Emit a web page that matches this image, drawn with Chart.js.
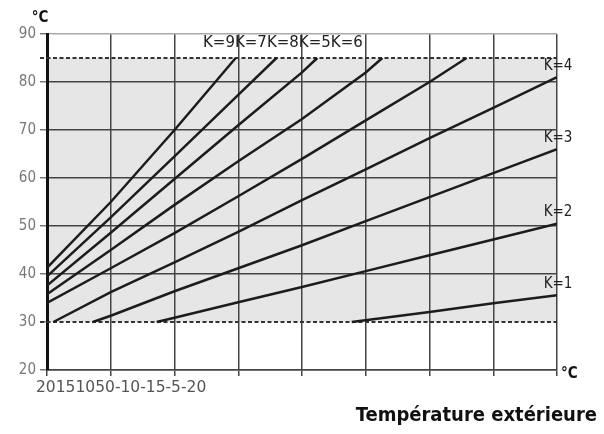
<!DOCTYPE html>
<html>
<head>
<meta charset="utf-8">
<script src="https://cdn.jsdelivr.net/npm/chart.js@4/dist/chart.umd.min.js"></script>
<style>
	body { margin: 0; background: #fff; }
	#wrap { width: 604px; height: 434px; }
</style>
</head>
<body>
<div id="wrap"><canvas id="curves" width="604" height="434"></canvas></div>
<script>
// heating curves: outdoor temperature (x) vs flow temperature (y)
const kNames = ['K=1', 'K=2', 'K=3', 'K=4', 'K=5', 'K=6', 'K=7', 'K=8', 'K=9'];
const k1Temp = [-3.9, -10, -15, -20];
const k1Flow = [30, 32.1, 33.9, 35.6];
const k2Temp = [11.4, 10, 5, 0, -5, -10, -15, -20];
const k2Flow = [30, 30.9, 34.1, 37.3, 40.6, 43.9, 47.2, 50.5];
const k3Temp = [16.4, 15, 10, 5, 0, -5, -10, -15, -20];
const k3Flow = [30, 31.3, 36.4, 41.2, 46, 51, 56, 61, 66];
const k4Temp = [19.5, 15, 10, 5, 0, -5, -10, -15, -20];
const k4Flow = [30, 36.2, 42.4, 48.8, 55.4, 61.8, 68.3, 74.6, 81];
const k5Temp = [20, 15, 10, 5, 0, -5, -10, -12.9];
const k5Flow = [34, 41.2, 48.5, 56.2, 64, 72, 80, 85];
const k6Temp = [20, 15, 10, 5, 0, -5, -6.3];
const k6Flow = [35.8, 45, 54.4, 63.5, 72.3, 82, 85];
const k7Temp = [20, 15, 10, 5, 0, -1.2];
const k7Flow = [37.6, 48.6, 59.8, 71, 82, 85];
const k8Temp = [20, 15, 10, 5, 2];
const k8Flow = [39.5, 51.8, 64.5, 77.3, 85];
const k9Temp = [20, 15, 10, 5.2];
const k9Flow = [41.3, 55, 70, 85];

const kTemps = [k1Temp, k2Temp, k3Temp, k4Temp, k5Temp, k6Temp, k7Temp, k8Temp, k9Temp];
const kFlows = [k1Flow, k2Flow, k3Flow, k4Flow, k5Flow, k6Flow, k7Flow, k8Flow, k9Flow];

// limits (dashed lines)
const flowMax = 85;
const flowMin = 30;

// labels as they appear in the picture
const xTickText = ['20', '15', '10', '5', '0', '-10', '-15', '-5', '-20'];
const topLabels = ['K=9', 'K=7', 'K=8', 'K=5', 'K=6'];
const sideLabels = ['K=1', 'K=2', 'K=3', 'K=4'];
const unitText = '°C';
const xTitle = 'Température extérieure';

const FONT = '"DejaVu Sans Condensed", "Roboto", "DejaVu Sans", sans-serif';
const WIDE = '"DejaVu Sans", "Roboto", sans-serif';

const bandPlugin = {
	id: 'band',
	beforeDraw(chart) {
		const ctx = chart.ctx;
		const a = chart.chartArea;
		const y = chart.scales.y;
		const top = y.getPixelForValue(flowMax);
		const bot = y.getPixelForValue(flowMin);
		ctx.save();
		ctx.fillStyle = '#e6e6e6';
		ctx.fillRect(a.left, top, a.right - a.left, bot - top);
		ctx.restore();
	},
	beforeDatasetsDraw(chart) {
		const ctx = chart.ctx;
		const a = chart.chartArea;
		const y = chart.scales.y;
		ctx.save();
		ctx.strokeStyle = '#333';
		ctx.lineWidth = 2;
		ctx.setLineDash([4, 2.5]);
		[flowMax, flowMin].forEach(function(v) {
			const py = Math.round(y.getPixelForValue(v));
			ctx.beginPath();
			ctx.moveTo(a.left - 7, py);
			ctx.lineTo(a.right, py);
			ctx.stroke();
		});
		ctx.restore();
	},
	afterDraw(chart) {
		const ctx = chart.ctx;
		const a = chart.chartArea;
		ctx.save();
		ctx.fillStyle = '#222';
		ctx.textBaseline = 'middle';
		// crammed curve labels at the top
		ctx.font = '15px ' + WIDE;
		ctx.textAlign = 'left';
		ctx.fillText(topLabels.join(''), 203, 43);
		// labels at the right end of K=1..K=4
		ctx.font = '15px ' + FONT;
		ctx.textAlign = 'center';
		sideLabels.forEach(function(lbl) {
			const meta = chart.getDatasetMeta(kNames.indexOf(lbl));
			const last = meta.data[meta.data.length - 1];
			ctx.fillText(lbl, a.right + 1, last.y - 11);
		});
		// crammed x tick labels
		ctx.fillStyle = '#555';
		ctx.font = '15.5px ' + WIDE;
		ctx.textAlign = 'left';
		ctx.fillText(xTickText.join(''), 36, 388);
		// units
		ctx.fillStyle = '#111';
		ctx.font = 'bold 15px ' + FONT;
		ctx.textAlign = 'center';
		ctx.fillText(unitText, 40, 18);
		ctx.textAlign = 'left';
		ctx.fillText(unitText, a.right + 4, a.bottom + 4);
		// axis title
		ctx.font = 'bold 20px ' + FONT;
		ctx.textAlign = 'right';
		ctx.fillText(xTitle, 597, 416);
		ctx.restore();
	}
};

const datasets = kNames.map(function(name, i) {
	return {
		label: name,
		data: kTemps[i].map(function(t, j) { return { x: t, y: kFlows[i][j] }; }),
		showLine: true,
		borderColor: '#1c1c1c',
		borderWidth: 2.5,
		pointRadius: 0,
		tension: 0
	};
});

new Chart(document.getElementById('curves'), {
	type: 'scatter',
	data: { datasets: datasets },
	options: {
		responsive: false,
		animation: false,
		devicePixelRatio: 1,
		layout: { padding: { top: 34, right: 47, left: 0, bottom: 0 } },
		plugins: {
			legend: { display: false },
			tooltip: { enabled: false }
		},
		scales: {
			x: {
				type: 'linear',
				reverse: true,
				min: -20,
				max: 20,
				ticks: { stepSize: 5, display: false },
				grid: { color: '#444', lineWidth: 1.5, tickLength: 6 },
				border: { color: '#444', width: 1.5 },
				afterFit: function(s) { s.height = 64; }
			},
			y: {
				min: 20,
				max: 90,
				ticks: {
					stepSize: 10,
					color: '#777',
					padding: 4,
					font: { family: FONT, size: 15 }
				},
				grid: {
					color: function(c) {
						if (c.tick.value === 90) return '#aaa';
						if (c.tick.value === 30) return 'rgba(0,0,0,0)';
						return '#444';
					},
					tickColor: '#777',
					lineWidth: 1.5,
					tickLength: 7
				},
				border: { color: '#111', width: 3 },
				afterFit: function(s) { s.width = 47; }
			}
		}
	},
	plugins: [bandPlugin]
});
</script>
</body>
</html>
